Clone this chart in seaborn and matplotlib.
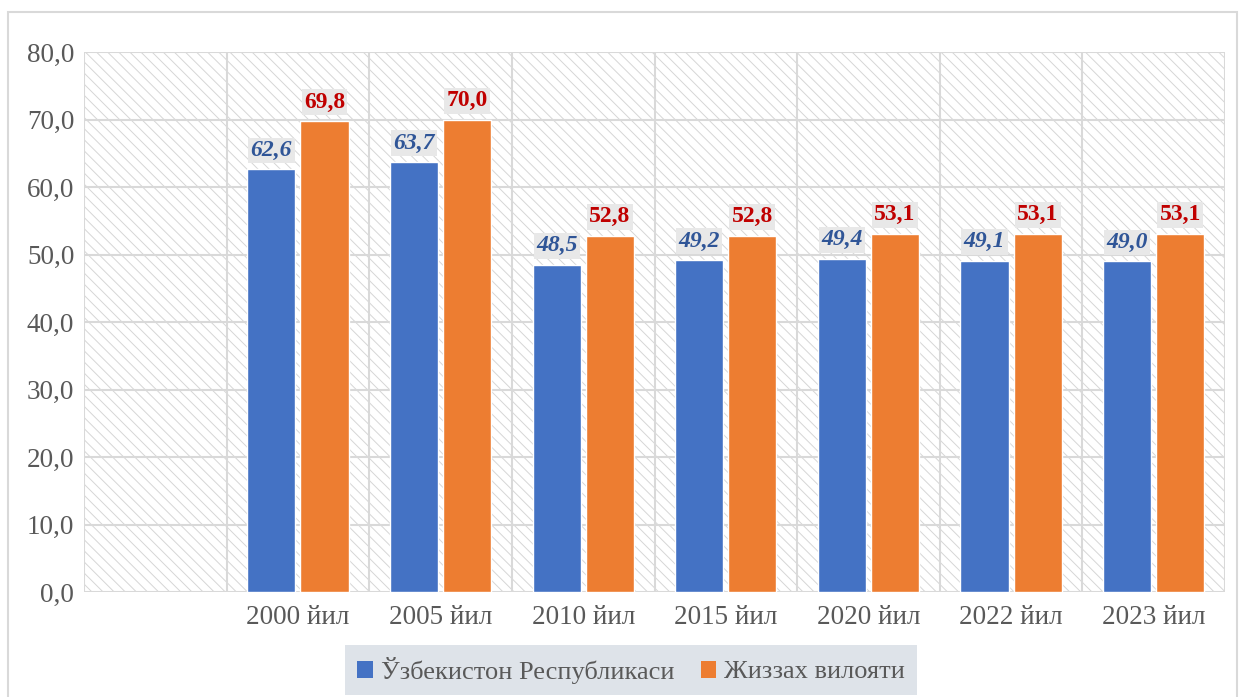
import matplotlib
matplotlib.use("Agg")
import matplotlib.pyplot as plt
from matplotlib.patches import Rectangle, Patch
import seaborn as sns
import pandas as pd
import numpy as np

categories = ["", "2000 йил", "2005 йил", "2010 йил", "2015 йил", "2020 йил", "2022 йил", "2023 йил"]
series_names = ["Ўзбекистон Республикаси", "Жиззах вилояти"]
uzb_values = [np.nan, 62.6, 63.7, 48.5, 49.2, 49.4, 49.1, 49.0]
jiz_values = [np.nan, 69.8, 70.0, 52.8, 52.8, 53.1, 53.1, 53.1]
y_ticks = [0, 10, 20, 30, 40, 50, 60, 70, 80]

colors = ["#4472C4", "#ED7D31"]
label_colors = ["#2F5597", "#C00000"]

sns.set_theme(style="white")
plt.rcParams['font.family'] = ['Liberation Serif', 'DejaVu Serif']
plt.rcParams['hatch.linewidth'] = 0.7
plt.rcParams['hatch.color'] = '#D6D6D6'

df = pd.DataFrame({
    "cat": categories * 2,
    "series": [series_names[0]] * len(categories) + [series_names[1]] * len(categories),
    "value": uzb_values + jiz_values,
})

fig = plt.figure(figsize=(12.43, 6.97), dpi=100)
# outer border
fig.patches.append(Rectangle((8 / 1243, -0.01), 1229 / 1243, 1 - 12 / 697 + 0.01,
                             transform=fig.transFigure, fill=False,
                             edgecolor="#D9D9D9", linewidth=1.5, zorder=0))

ax = fig.add_axes([84 / 1243, 1 - 592 / 697, (1225 - 84) / 1243, (592 - 52) / 697])

# hatched background
ax.add_patch(Rectangle((0, 0), 1, 1, transform=ax.transAxes, facecolor="white",
                       edgecolor="#D6D6D6", hatch="\\\\\\", linewidth=0, zorder=0))

sns.barplot(data=df, x="cat", y="value", hue="series", order=categories,
            hue_order=series_names, palette=colors, width=0.744, gap=0.094,
            saturation=1, ax=ax, legend=False, zorder=3)

ax.set_ylim(0, 80)
ax.set_xlim(-0.5, len(categories) - 0.5)
ax.set_yticks(y_ticks)
ax.set_yticklabels([f"{v:.1f}".replace(".", ",") for v in y_ticks],
                   fontsize=19.5, color="#595959")
ax.set_xticks(range(len(categories)))
ax.set_xticklabels(categories, fontsize=19.5, color="#595959")
ax.set_xticks(np.arange(-0.5, len(categories), 1), minor=True)
ax.tick_params(axis="both", which="both", length=0)
ax.tick_params(axis="y", which="major", pad=7)
ax.tick_params(axis="x", which="major", pad=9)
ax.set_xlabel("")
ax.set_ylabel("")
for s in ax.spines.values():
    s.set_visible(False)
ax.grid(True, axis="y", which="major", color="#D9D9D9", linewidth=1.5, zorder=1)
ax.grid(True, axis="x", which="minor", color="#D9D9D9", linewidth=1.5, zorder=1)
ax.grid(False, axis="x", which="major")
ax.set_axisbelow(True)

for i, cont in enumerate(ax.containers):
    for bar in cont:
        h = bar.get_height()
        if np.isnan(h):
            continue
        txt = f"{h:.1f}".replace(".", ",")
        ax.annotate(txt, (bar.get_x() + bar.get_width() / 2, h), xytext=(0, 6),
                    textcoords="offset points", ha="center", va="bottom",
                    fontsize=17, fontweight="bold",
                    fontstyle="italic" if i == 0 else "normal",
                    color=label_colors[i], zorder=5,
                    bbox=dict(boxstyle="square,pad=0.1", facecolor="#E8E8E8",
                              edgecolor="none"))

handles = [Patch(facecolor=c, edgecolor="none") for c in colors]
leg = fig.legend(handles, series_names, loc="center", bbox_to_anchor=(631 / 1243, 1 - 670 / 697),
                 ncol=2, fontsize=19, frameon=True, fancybox=False,
                 handlelength=0.6, handleheight=0.6, handletextpad=0.3,
                 columnspacing=1.0, borderpad=0.45, borderaxespad=0)
leg.get_frame().set_facecolor("#D6DCE4")
leg.get_frame().set_edgecolor("none")
for t in leg.get_texts():
    t.set_color("#595959")

fig.savefig("out.png", dpi=100)
